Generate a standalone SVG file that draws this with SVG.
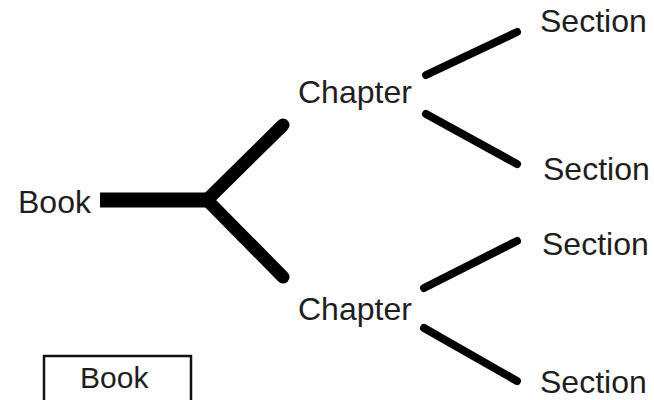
<svg xmlns="http://www.w3.org/2000/svg" width="654" height="400" viewBox="0 0 654 400">
  <style>
    .label { font-family: "Liberation Sans", Arial, sans-serif; font-size: 32px; fill: #1e1e1e; }
    .trunk { stroke: #000; stroke-width: 15; fill: none; }
    .branch { stroke: #000; stroke-width: 13; fill: none; stroke-linecap: round; }
    .twig { stroke: #000; stroke-width: 8; fill: none; stroke-linecap: round; }
  </style>
  <rect width="654" height="400" fill="#fff"/>

  <g id="connectors">
    <line class="trunk" x1="100" y1="200" x2="208" y2="200"/>
    <line class="branch" x1="207" y1="200" x2="283" y2="125"/>
    <line class="branch" x1="207" y1="200" x2="283" y2="277"/>
    <line class="twig" x1="426" y1="75" x2="517" y2="32"/>
    <line class="twig" x1="426" y1="114" x2="517" y2="164"/>
    <line class="twig" x1="424" y1="288" x2="517" y2="241"/>
    <line class="twig" x1="424" y1="328" x2="517" y2="381"/>
  </g>

  <g id="book">
    <text class="label" x="18" y="213">Book</text>
  </g>
  <g id="chapter1">
    <text class="label" x="298" y="103">Chapter</text>
  </g>
  <g id="chapter2">
    <text class="label" x="298" y="320">Chapter</text>
  </g>
  <g id="section1">
    <text class="label" x="540" y="32">Section</text>
  </g>
  <g id="section2">
    <text class="label" x="543" y="180">Section</text>
  </g>
  <g id="section3">
    <text class="label" x="542" y="255">Section</text>
  </g>
  <g id="section4">
    <text class="label" x="540" y="393">Section</text>
  </g>

  <g id="legend-book">
    <rect x="44" y="356" width="147" height="60" fill="#fff" stroke="#111" stroke-width="2.5"/>
    <text class="label" x="80" y="388" style="font-size:30px">Book</text>
  </g>
</svg>
